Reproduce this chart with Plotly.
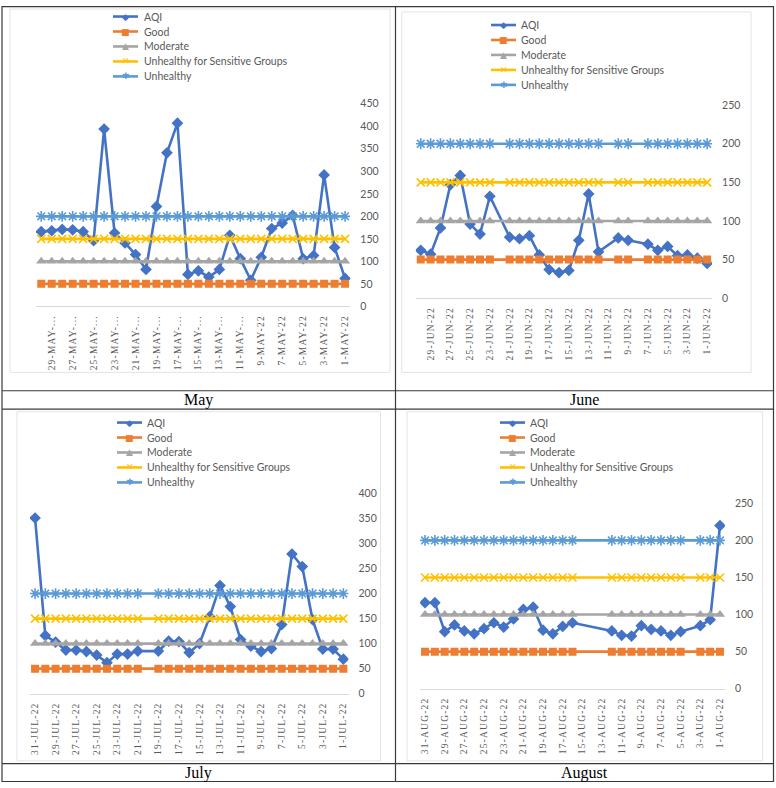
import plotly.graph_objects as go

W, H = 776, 788

# ---------------- data ----------------
series_names = ["AQI", "Good", "Moderate", "Unhealthy for Sensitive Groups", "Unhealthy"]
series_colors = ["#4472C4", "#ED7D31", "#A5A5A5", "#FFC000", "#5B9BD5"]
aqi_levels = [50, 100, 150, 200]   # Good, Moderate, USG, Unhealthy thresholds
month_titles = ["May", "June", "July", "August"]

may_days = [30, 29, 28, 27, 26, 25, 24, 23, 22, 21, 20, 19, 18, 17, 16, 15, 14, 13, 12, 11, 10, 9, 8, 7, 6, 5, 4, 3, 2, 1]
may_aqi = [166, 168, 171, 170, 166, 146, 394, 163, 141, 115, 82, 222, 341, 407, 71, 79, 65, 82, 158, 106, 58, 109, 173, 185, 202, 106, 113, 292, 131, 62]

june_days = [30, 29, 28, 27, 26, 25, 24, 23, 21, 20, 19, 18, 17, 16, 15, 14, 13, 12, 10, 9, 7, 6, 5, 4, 3, 2, 1]
june_aqi = [62, 57, 91, 147, 159, 96, 83, 132, 79, 77, 81, 56, 37, 33, 36, 75, 135, 60, 78, 75, 70, 62, 67, 55, 56, 52, 45]

july_days = [31, 30, 29, 28, 27, 26, 25, 24, 23, 22, 21, 19, 18, 17, 16, 15, 14, 13, 12, 11, 10, 9, 8, 7, 6, 5, 4, 3, 2, 1]
july_aqi = [351, 116, 103, 87, 87, 84, 77, 62, 79, 79, 85, 85, 105, 104, 82, 100, 154, 216, 174, 108, 95, 84, 90, 138, 279, 254, 148, 89, 89, 69]

aug_days = [31, 30, 29, 28, 27, 26, 25, 24, 23, 22, 21, 20, 19, 18, 17, 16, 12, 11, 10, 9, 8, 7, 6, 5, 3, 2, 1]
aug_aqi = [116, 116, 77, 86, 78, 74, 81, 89, 83, 94, 107, 110, 79, 74, 84, 89, 78, 72, 71, 85, 80, 78, 72, 77, 85, 93, 220]

may_tickvals = [29, 27, 25, 23, 21, 19, 17, 15, 13, 11, 9, 7, 5, 3, 1]
may_ticktext = ["29-MAY-...", "27-MAY-...", "25-MAY-...", "23-MAY-...", "21-MAY-...", "19-MAY-...",
                "17-MAY-...", "15-MAY-...", "13-MAY-...", "11-MAY-...", "9-MAY-22", "7-MAY-22",
                "5-MAY-22", "3-MAY-22", "1-MAY-22"]
june_tickvals = [29, 27, 25, 23, 21, 19, 17, 15, 13, 11, 9, 7, 5, 3, 1]
june_ticktext = ["29-JUN-22", "27-JUN-22", "25-JUN-22", "23-JUN-22", "21-JUN-22", "19-JUN-22",
                 "17-JUN-22", "15-JUN-22", "13-JUN-22", "11-JUN-22", "9-JUN-22", "7-JUN-22",
                 "5-JUN-22", "3-JUN-22", "1-JUN-22"]
july_tickvals = [31, 29, 27, 25, 23, 21, 19, 17, 15, 13, 11, 9, 7, 5, 3, 1]
july_ticktext = ["31-JUL-22", "29-JUL-22", "27-JUL-22", "25-JUL-22", "23-JUL-22", "21-JUL-22",
                 "19-JUL-22", "17-JUL-22", "15-JUL-22", "13-JUL-22", "11-JUL-22", "9-JUL-22",
                 "7-JUL-22", "5-JUL-22", "3-JUL-22", "1-JUL-22"]
aug_tickvals = [31, 29, 27, 25, 23, 21, 19, 17, 15, 13, 11, 9, 7, 5, 3, 1]
aug_ticktext = ["31-AUG-22", "29-AUG-22", "27-AUG-22", "25-AUG-22", "23-AUG-22", "21-AUG-22",
                "19-AUG-22", "17-AUG-22", "15-AUG-22", "13-AUG-22", "11-AUG-22", "9-AUG-22",
                "7-AUG-22", "5-AUG-22", "3-AUG-22", "1-AUG-22"]

# ---------------- layout helpers ----------------
def fx(px):
    return px / W


def fy(py):
    return 1 - py / H


panels = [
    dict(days=may_days, aqi=may_aqi, ymax=450, nslots=30, tv=may_tickvals, tt=may_ticktext,
         plot=(36, 99.3, 350.3, 305), box=(10, 3, 390, 372), leg=(113, 138, 142, 10.7),
         cap=(198.75, 400)),
    dict(days=june_days, aqi=june_aqi, ymax=250, nslots=30, tv=june_tickvals, tt=june_ticktext,
         plot=(415.8, 100.7, 712.1, 296.7), box=(401.7, 6, 751, 372), leg=(491, 516, 519, 19.3),
         cap=(584.5, 400)),
    dict(days=july_days, aqi=july_aqi, ymax=400, nslots=31, tv=july_tickvals, tt=july_ticktext,
         plot=(29.9, 495, 348.5, 698.3), box=(17, 412, 380.5, 766.5), leg=(117, 142, 145, 423),
         cap=(198.75, 779)),
    dict(days=aug_days, aqi=aug_aqi, ymax=250, nslots=31, tv=aug_tickvals, tt=aug_ticktext,
         plot=(420.1, 505, 724.9, 693.3), box=(407, 412, 762.7, 766.5), leg=(500, 525, 528, 423),
         cap=(584.5, 779)),
]

marker_specs = [
    dict(symbol="diamond", size=9, line=dict(width=0)),
    dict(symbol="square", size=8, line=dict(width=0)),
    dict(symbol="triangle-up", size=9, line=dict(width=0)),
    dict(symbol="x-thin", size=8, line=dict(width=1.6, color=series_colors[3])),
    dict(symbol="asterisk", size=9, line=dict(width=1.6, color=series_colors[4])),
]
legend_glyphs = ["\u25C6", "\u25A0", "\u25B2", "\u2715", "\u2731"]

SANS = "Lato, 'Open Sans', sans-serif"
SERIF = "'Liberation Serif', 'Times New Roman', serif"
GRAY_TXT = "#595959"

fig = go.Figure()
shapes = []
annotations = []

for i, p in enumerate(panels):
    ax = "" if i == 0 else str(i + 1)
    xa, ya = "x" + ax, "y" + ax
    # AQI series
    fig.add_trace(go.Scatter(
        x=p["days"], y=p["aqi"], mode="lines+markers", name=series_names[0],
        line=dict(color=series_colors[0], width=2.6),
        marker=dict(color=series_colors[0], **marker_specs[0]),
        xaxis=xa, yaxis=ya, showlegend=False))
    # threshold series
    for k, lvl in enumerate(aqi_levels):
        fig.add_trace(go.Scatter(
            x=p["days"], y=[lvl] * len(p["days"]), mode="lines+markers", name=series_names[k + 1],
            line=dict(color=series_colors[k + 1], width=2.6),
            marker=dict(color=series_colors[k + 1], **marker_specs[k + 1]),
            xaxis=xa, yaxis=ya, showlegend=False))

    x0, y0, x1, y1 = p["plot"]
    ns = p["nslots"]
    fig.layout["xaxis" + ax] = dict(
        domain=[fx(x0), fx(x1)], anchor=ya, range=[ns + 0.5, 0.5],
        showgrid=False, zeroline=False, showline=True, linecolor="#d9d9d9", linewidth=1,
        ticks="", tickmode="array", tickvals=p["tv"],
        ticktext=['<span style="letter-spacing:1.2px">%s</span>' % t for t in p["tt"]],
        tickangle=-90, ticklabelstandoff=4,
        tickfont=dict(family=SERIF, size=9.5, color=GRAY_TXT), fixedrange=True)
    fig.layout["yaxis" + ax] = dict(
        domain=[fy(y1), fy(y0)], anchor=xa, side="right", range=[0, p["ymax"]], dtick=50,
        showgrid=False, zeroline=False, showline=False, ticks="", ticklabelstandoff=9,
        tickfont=dict(family=SANS, size=10.5, color=GRAY_TXT), fixedrange=True)

    # chart area box
    bx0, by0, bx1, by1 = p["box"]
    shapes.append(dict(type="rect", xref="paper", yref="paper", x0=fx(bx0), x1=fx(bx1),
                       y0=fy(by1), y1=fy(by0), line=dict(color="#e3e3e3", width=1),
                       fillcolor="rgba(0,0,0,0)", layer="below"))

    # legend (drawn by hand to match Excel spacing)
    lx0, lx1, tx, ly = p["leg"]
    for k, nm in enumerate(series_names):
        yy = ly + 15.2 * k
        shapes.append(dict(type="line", xref="paper", yref="paper", x0=fx(lx0), x1=fx(lx1),
                           y0=fy(yy), y1=fy(yy), line=dict(color=series_colors[k], width=2.6)))
        annotations.append(dict(xref="paper", yref="paper", x=fx((lx0 + lx1) / 2), y=fy(yy),
                                text=legend_glyphs[k], showarrow=False, xanchor="center",
                                yanchor="middle", font=dict(family="DejaVu Sans", size=9,
                                                            color=series_colors[k])))
        annotations.append(dict(xref="paper", yref="paper", x=fx(tx), y=fy(yy), text=nm,
                                showarrow=False, xanchor="left", yanchor="middle",
                                font=dict(family=SANS, size=10.5, color=GRAY_TXT)))

    # caption
    cx, cy = p["cap"]
    annotations.append(dict(xref="paper", yref="paper", x=fx(cx), y=fy(cy), text=month_titles[i],
                            showarrow=False, xanchor="center", yanchor="middle",
                            font=dict(family=SERIF, size=16, color="#000000")))

# table rules
rule = dict(color="#3a3a3a", width=1.2)
for ypx in [0.6, 390.7, 409.3, 769.3, 787.5]:
    shapes.append(dict(type="line", xref="paper", yref="paper", x0=fx(2), x1=fx(773.5),
                       y0=fy(ypx), y1=fy(ypx), line=rule))
for xpx in [2, 395.5, 773.5]:
    shapes.append(dict(type="line", xref="paper", yref="paper", x0=fx(xpx), x1=fx(xpx),
                       y0=fy(0), y1=fy(788), line=rule))

fig.update_layout(
    width=W, height=H, margin=dict(l=0, r=0, t=0, b=0, pad=0),
    paper_bgcolor="white", plot_bgcolor="white", showlegend=False,
    shapes=shapes, annotations=annotations,
)

fig.write_html("out.html", config={"displayModeBar": False},
               post_script="document.body.style.margin='0';document.body.style.overflow='hidden';")
